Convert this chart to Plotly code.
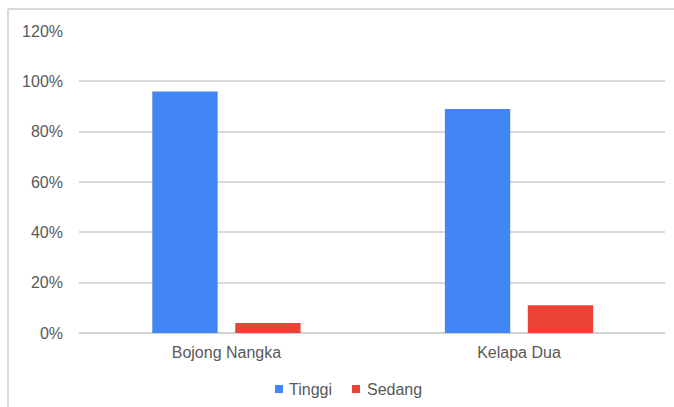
import plotly.graph_objects as go

categories = ["Bojong Nangka", "Kelapa Dua"]
tinggi = [0.96, 0.89]
sedang = [0.04, 0.11]
series_names = ["Tinggi", "Sedang"]
series_colors = ["#4285F4", "#EA4335"]
y_ticks = [0, 0.2, 0.4, 0.6, 0.8, 1.0, 1.2]

W, H = 674, 407
L, R, T, B = 79, 9, 31, 74
pw, ph = W - L - R, H - T - B

def px_x(p):
    return (p - L) / pw

def px_y(p):
    return (H - B - p) / ph

fig = go.Figure()
for name, vals, col in zip(series_names, [tinggi, sedang], series_colors):
    fig.add_trace(go.Bar(x=categories, y=vals, name=name,
                         marker=dict(color=col, line=dict(width=0)),
                         showlegend=False))

font_family = "Arial, Liberation Sans, sans-serif"
text_color = "#595959"

# legend drawn as text + colour squares below the plot
legend_marker_px = [279, 356]
legend_text_px = [287, 365]
legend_y_px = 389
shapes = [
    dict(type="line", xref="paper", yref="paper",
         x0=px_x(8), x1=px_x(674), y0=px_y(9), y1=px_y(9),
         line=dict(color="#d9d9d9", width=2)),
    dict(type="line", xref="paper", yref="paper",
         x0=px_x(8), x1=px_x(8), y0=px_y(9), y1=px_y(407),
         line=dict(color="#d9d9d9", width=2)),
]
annotations = []
for name, col, mx, tx in zip(series_names, series_colors, legend_marker_px, legend_text_px):
    shapes.append(dict(type="rect", xref="paper", yref="paper",
                       x0=px_x(mx - 4), x1=px_x(mx + 4),
                       y0=px_y(legend_y_px + 4), y1=px_y(legend_y_px - 4),
                       fillcolor=col, line=dict(width=0)))
    annotations.append(dict(text=name, xref="paper", yref="paper",
                            x=px_x(tx), y=px_y(legend_y_px),
                            xanchor="left", yanchor="middle", showarrow=False,
                            font=dict(size=16, color=text_color, family=font_family)))

fig.update_layout(
    width=W, height=H,
    margin=dict(l=L, r=R, t=T, b=B, autoexpand=False),
    paper_bgcolor="white", plot_bgcolor="white",
    barmode="group", bargap=0.433, bargroupgap=0.212,
    font=dict(family=font_family, size=16, color=text_color),
    showlegend=False,
    xaxis=dict(range=[-0.504, 1.499], showgrid=False, showline=False,
               ticks="", ticklabelstandoff=8, automargin=False,
               tickfont=dict(size=16, color=text_color)),
    yaxis=dict(range=[0, 1.2], tickvals=y_ticks, tickformat=".0%",
               showgrid=True, gridcolor="#d9d9d9", gridwidth=1.5,
               zeroline=True, zerolinecolor="#d0d0d0", zerolinewidth=1.5,
               showline=False, ticks="", ticklabelstandoff=15, automargin=False,
               tickfont=dict(size=16, color=text_color)),
    shapes=shapes,
    annotations=annotations,
)

fig.write_html("out.html")
